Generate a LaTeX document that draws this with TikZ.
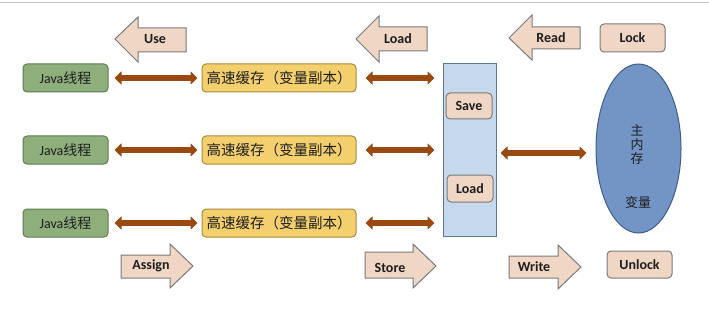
\documentclass[tikz,border=0pt]{standalone}
\usepackage{fontspec}
\setmainfont{Carlito}
\newfontfamily\cjk{Noto Sans CJK SC}
\usetikzlibrary{arrows.meta,shapes.geometric}
\definecolor{gfill}{HTML}{8EAE7C}
\definecolor{gdraw}{HTML}{5E7B52}
\definecolor{yfill}{HTML}{F4CF6E}
\definecolor{ydraw}{HTML}{A88C3A}
\definecolor{pfill}{HTML}{F0D6C4}
\definecolor{pdraw}{HTML}{7A7A7A}
\definecolor{bfill}{HTML}{C6D8EB}
\definecolor{bdraw}{HTML}{5A7896}
\definecolor{efill}{HTML}{7395C6}
\definecolor{edraw}{HTML}{3F5E8C}
\definecolor{brn}{HTML}{9A4A10}
\definecolor{txt}{HTML}{1E1E1E}
\tikzset{
  thread/.style={draw=gdraw,fill=gfill,rounded corners=4pt,line width=1pt,minimum width=85pt,minimum height=28pt,inner sep=0pt,font=\fontsize{14}{16}\selectfont,text=txt},
  cache/.style={draw=ydraw,fill=yfill,rounded corners=4pt,line width=1pt,minimum width=154pt,minimum height=28pt,inner sep=0pt,font=\cjk\fontsize{14.5}{16}\selectfont,text=txt},
  pbox/.style={draw=pdraw,fill=pfill,rounded corners=4pt,line width=1pt,inner sep=0pt,font=\bfseries\fontsize{14}{16}\selectfont,text=txt},
  blockarrow/.style={draw=pdraw,fill=pfill,line width=1pt,line join=miter},
  lbl/.style={font=\bfseries\fontsize{14}{16}\selectfont,text=txt,inner sep=0pt},
  dbl/.style={draw=brn,line width=5.5pt,{Triangle[width=13pt,length=7pt]}-{Triangle[width=13pt,length=7pt]}},
}
\begin{document}
\begin{tikzpicture}[x=1pt,y=-1pt]
\useasboundingbox (0,0) rectangle (709,310);
\fill[white] (0,0) rectangle (709,310);
\draw[black!22,line width=1pt] (0,3) -- (709,3);

% threads
\node[thread] (j1) at (65.5,78) {Java{\cjk 线程}};
\node[thread] (j2) at (65.5,150) {Java{\cjk 线程}};
\node[thread] (j3) at (65.5,223) {Java{\cjk 线程}};
% caches
\node[cache] (c1) at (279,78) {高速缓存（变量副本）};
\node[cache] (c2) at (279,150) {高速缓存（变量副本）};
\node[cache] (c3) at (279,223) {高速缓存（变量副本）};
% working area
\node[draw=bdraw,fill=bfill,line width=1pt,minimum width=53pt,minimum height=172pt,inner sep=0pt] (wm) at (469.5,150) {};
\node[pbox,minimum width=46pt,minimum height=26pt] (save) at (469,106) {Save};
\node[pbox,minimum width=46pt,minimum height=27pt] (load2) at (470,188.5) {Load};
% main memory
\node[ellipse,draw=edraw,fill=efill,line width=1pt,minimum width=85pt,minimum height=169pt,inner sep=0pt] (mem) at (638.5,148.5) {};
\node[font=\cjk\fontsize{13}{14}\selectfont,text=txt,align=center,inner sep=0pt] (mlbl) at (637,145) {主\\内\\存};
\node[font=\cjk\fontsize{13}{14}\selectfont,text=txt,inner sep=0pt] (vlbl) at (638,203) {变量};
% lock / unlock
\node[pbox,minimum width=65pt,minimum height=28pt] (lock) at (632.5,38) {Lock};
\node[pbox,minimum width=65pt,minimum height=27pt] (unlock) at (639.5,264.5) {Unlock};

% double arrows
\foreach \i in {1,2,3}{
  \draw[dbl,shorten <=6pt,shorten >=4pt] (j\i.east) -- (c\i.west);
  \draw[dbl,shorten <=9pt,shorten >=8pt] (c\i.east) -- (c\i.east -| wm.west);
}
\coordinate (wmr) at ([yshift=-3pt]wm.east);
\draw[dbl,shorten <=4pt,shorten >=9pt] (wmr) -- (wmr -| mem.west);

% block arrows (left)
\draw[blockarrow] (115,39) -- (138,17) -- (138,28) -- (186,28) -- (186,52) -- (138,52) -- (138,62) -- cycle;
\node[lbl] (use) at (155,39) {Use};
\draw[blockarrow] (356,39) -- (379,16) -- (379,27) -- (427,27) -- (427,51) -- (379,51) -- (379,62) -- cycle;
\node[lbl] (load1) at (398,39) {Load};
\draw[blockarrow] (509,38) -- (532,15) -- (532,27) -- (580,27) -- (580,49) -- (532,49) -- (532,60) -- cycle;
\node[lbl] (read) at (551,38) {Read};
% block arrows (right)
\draw[blockarrow] (193,266) -- (170,244) -- (170,255) -- (121,255) -- (121,278) -- (170,278) -- (170,288) -- cycle;
\node[lbl] (assign) at (151,266) {Assign};
\draw[blockarrow] (436,266) -- (413,244) -- (413,252) -- (365,252) -- (365,278) -- (413,278) -- (413,288) -- cycle;
\node[lbl] (store) at (390,268) {Store};
\draw[blockarrow] (581,267) -- (558,245) -- (558,256) -- (509,256) -- (509,278) -- (558,278) -- (558,289) -- cycle;
\node[lbl] (write) at (534,267) {Write};
\end{tikzpicture}
\end{document}
